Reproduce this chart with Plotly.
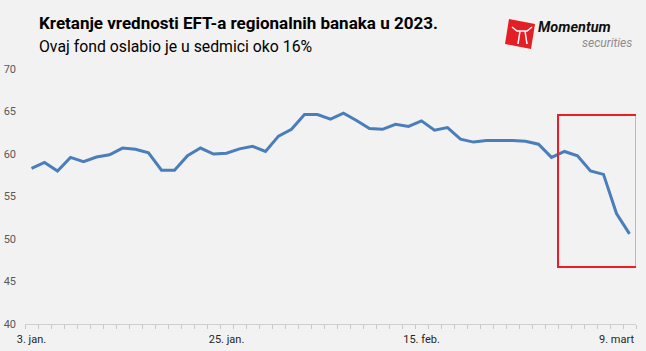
import plotly.graph_objects as go

# Trading days, 3 Jan 2023 - 10 Mar 2023
dates = ["2023-01-03","2023-01-04","2023-01-05","2023-01-06","2023-01-09","2023-01-10",
         "2023-01-11","2023-01-12","2023-01-13","2023-01-17","2023-01-18","2023-01-19",
         "2023-01-20","2023-01-23","2023-01-24","2023-01-25","2023-01-26","2023-01-27",
         "2023-01-30","2023-01-31","2023-02-01","2023-02-02","2023-02-03","2023-02-06",
         "2023-02-07","2023-02-08","2023-02-09","2023-02-10","2023-02-13","2023-02-14",
         "2023-02-15","2023-02-16","2023-02-17","2023-02-21","2023-02-22","2023-02-23",
         "2023-02-24","2023-02-27","2023-02-28","2023-03-01","2023-03-02","2023-03-03",
         "2023-03-06","2023-03-07","2023-03-08","2023-03-09","2023-03-10"]
values = [58.3, 59.0, 58.0, 59.6, 59.1, 59.65, 59.9, 60.7, 60.55, 60.15, 58.1, 58.1,
          59.8, 60.7, 60.0, 60.1, 60.6, 60.9, 60.3, 62.1, 62.9, 64.65, 64.65, 64.1,
          64.8, 63.95, 63.0, 62.9, 63.5, 63.25, 63.9, 62.8, 63.1, 61.75, 61.4, 61.6,
          61.6, 61.6, 61.5, 61.15, 59.6, 60.3, 59.8, 58.0, 57.6, 53.0, 50.6]
tick_dates = ["2023-01-03", "2023-01-25", "2023-02-15", "2023-03-09"]
tick_labels = ["3. jan.", "25. jan.", "15. feb.", "9. mart"]
y_ticks = [40, 45, 50, 55, 60, 65, 70]

title = "Kretanje vrednosti EFT-a regionalnih banaka u 2023."
subtitle = "Ovaj fond oslabio je u sedmici oko 16%"

idx = list(range(len(dates)))
tick_idx = [dates.index(d) for d in tick_dates]
boundaries = [i - 0.5 for i in range(len(dates) + 1)]

W, H = 646, 351
L, R, T, B = 25, 10, 69, 27
pw, ph = W - L - R, H - T - B

def px(x):
    return (x - L) / pw

def py(y):
    return (H - B - y) / ph

fig = go.Figure()
fig.add_trace(go.Scatter(
    x=idx, y=values, mode="lines",
    line=dict(color="#4A7EBB", width=3),
    hovertext=dates, hoverinfo="text+y",
))

fig.update_layout(
    width=W, height=H,
    margin=dict(l=L, r=R, t=T, b=B),
    paper_bgcolor="#F2F2F2", plot_bgcolor="#F2F2F2",
    showlegend=False,
    font=dict(family="Roboto, Liberation Sans, sans-serif"),
    xaxis=dict(
        range=[-0.5, len(dates) - 0.5],
        tickvals=tick_idx, ticktext=tick_labels,
        ticks="", showgrid=False, zeroline=False,
        showline=True, linecolor="#D0D0D0", linewidth=1,
        tickfont=dict(size=11, color="#262626"),
        ticklabelstandoff=5, automargin=False,
        minor=dict(tickmode="array", tickvals=boundaries, ticks="outside",
                   ticklen=4, tickwidth=1, tickcolor="#C8C8C8", showgrid=False),
    ),
    yaxis=dict(
        range=[40, 70], tickvals=y_ticks,
        showgrid=False, zeroline=False, showline=False, ticks="",
        tickfont=dict(size=11, color="#595959"),
        ticklabelstandoff=8, automargin=False,
    ),
)

# highlight rectangle
fig.add_shape(type="rect", xref="x", yref="y",
              x0=40.5, x1=46.55, y0=46.7, y1=64.6,
              line=dict(color="#EE1C25", width=2), fillcolor="rgba(0,0,0,0)")

# titles
fig.add_annotation(x=px(37), y=py(23), xref="paper", yref="paper",
                   text="<b>" + title + "</b>", showarrow=False,
                   xanchor="left", yanchor="middle",
                   font=dict(size=17, color="#000000"))
fig.add_annotation(x=px(37), y=py(46), xref="paper", yref="paper",
                   text=subtitle, showarrow=False,
                   xanchor="left", yanchor="middle",
                   font=dict(size=15.8, color="#000000"))

# logo
pts = [(509, 19), (535, 24), (531, 49), (505, 44)]
path = "M " + " L ".join(f"{px(a)},{py(b)}" for a, b in pts) + " Z"
fig.add_shape(type="path", xref="paper", yref="paper", path=path,
              fillcolor="#E31E24", line=dict(width=0))
horn = [(512, 27), (517, 31), (527, 31), (532, 27)]
fig.add_shape(type="path", xref="paper", yref="paper",
              path="M " + " L ".join(f"{px(a)},{py(b)}" for a, b in horn),
              line=dict(color="white", width=1.5))
fig.add_shape(type="path", xref="paper", yref="paper",
              path=f"M {px(520)},{py(31)} L {px(518)},{py(44)} M {px(525)},{py(31)} L {px(527)},{py(44)}",
              line=dict(color="white", width=1.5))
fig.add_annotation(x=px(536), y=py(28), xref="paper", yref="paper",
                   text="<b><i>Momentum</i></b>", showarrow=False,
                   xanchor="left", yanchor="middle",
                   font=dict(size=14.5, color="#111111"))
fig.add_annotation(x=px(634), y=py(43), xref="paper", yref="paper",
                   text="<i>securities</i>", showarrow=False,
                   xanchor="right", yanchor="middle",
                   font=dict(size=12, color="#8C8C8C"))

fig.write_html("out.html")
